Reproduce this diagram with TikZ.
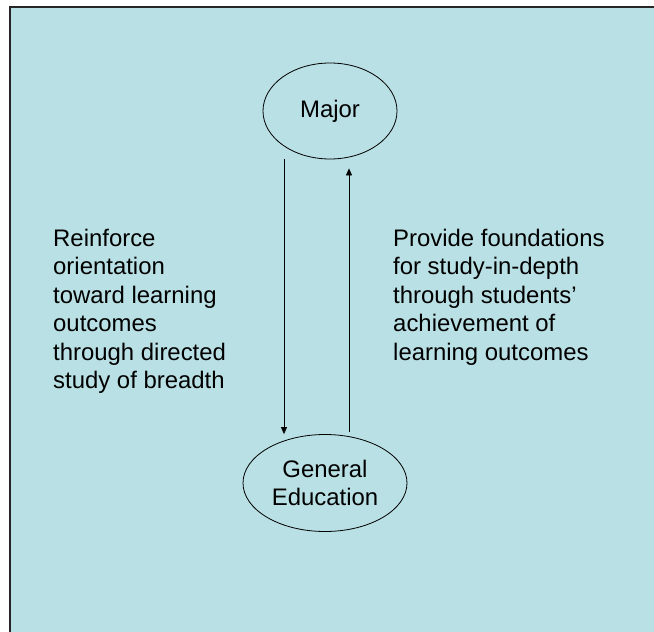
\documentclass[tikz,border=0pt]{standalone}
\usepackage{fontspec}
\setmainfont{Liberation Sans}
\usetikzlibrary{shapes.geometric,arrows.meta}
\definecolor{panel}{RGB}{185,224,228}
\begin{document}
\begin{tikzpicture}[x=1bp,y=-1bp,
    txt/.style={font=\fontsize{24}{28.5}\selectfont},
    topic/.style={ellipse,draw,line width=0.8bp,inner sep=0pt,align=center,txt},
    flow/.style={draw,line width=0.8bp,-{Triangle[length=7bp,width=6bp]}}]

      \clip (0,0) rectangle (654,632);
      \useasboundingbox (0,0) rectangle (654,632);
      \draw[fill=panel,line width=2.5bp,draw=black!85] (10,7) rectangle (680,660);

      \node[topic,minimum width=134bp,minimum height=96bp] (major) at (330,111) {Major};
      \node[topic,minimum width=164bp,minimum height=97bp] (gened) at (325,483) {General\\Education};

      \begin{scope}[every node/.style={anchor=north west,inner sep=0pt,align=left,txt}]
        \node (down) at (53,229) {Reinforce\\orientation\\toward learning\\outcomes\\through directed\\study of breadth};
        \node (up) at (393,229) {Provide foundations\\for study-in-depth\\through students'\\achievement of\\learning outcomes};
      \end{scope}

      \path[flow] ([xshift=-46bp]major.south) -- ([xshift=-46bp]major.south |- gened.north);
      \path[flow,shorten >=9bp] ([xshift=24bp,yshift=2bp]gened.north) -- ([xshift=24bp]gened.north |- major.south);

    \end{tikzpicture}
\end{document}
